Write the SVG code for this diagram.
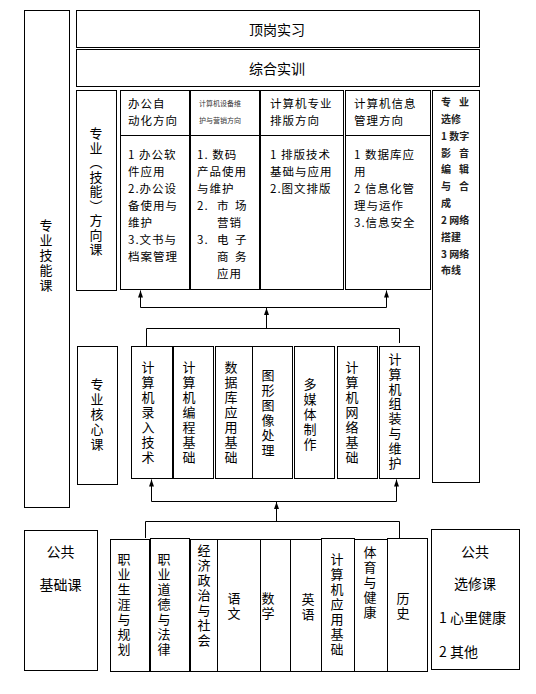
<svg xmlns="http://www.w3.org/2000/svg" width="536" height="694" viewBox="0 0 536 694">
<defs>
<style>
.b{fill:#fff;stroke:#000;stroke-width:1}
.t{font-family:"Noto Sans CJK SC","Liberation Sans",sans-serif;fill:#000}
.m{font-size:14px}
.s{font-size:11.5px;letter-spacing:1px}
.v{font-size:13px;text-anchor:middle}
.x{font-size:10px;font-weight:bold;fill:#222}
.y{font-size:7px;fill:#333}
.c{fill:none;stroke:#000;stroke-width:1}
</style>
<marker id="ah" markerWidth="8" markerHeight="8" refX="7" refY="4" orient="auto" markerUnits="userSpaceOnUse">
<path d="M0,1.5 L7,4 L0,6.5 Z" fill="#000"/>
</marker>
</defs>
<rect width="536" height="694" fill="#fff"/>

<g id="zyjnk">
<rect class="b" x="24.5" y="10.5" width="45" height="497"/>
<text class="t v"><tspan x="46" y="230">专</tspan><tspan x="46" dy="15">业</tspan><tspan x="46" dy="15">技</tspan><tspan x="46" dy="15">能</tspan><tspan x="46" dy="15">课</tspan></text>
</g>

<g id="dgsx">
<rect class="b" x="76.5" y="10.5" width="403" height="37"/>
<text class="t m" x="277" y="35" text-anchor="middle">顶岗实习</text>
</g>

<g id="zhsx">
<rect class="b" x="76.5" y="49.5" width="403" height="37"/>
<text class="t m" x="277" y="74" text-anchor="middle">综合实训</text>
</g>

<g id="fxk">
<rect class="b" x="76.5" y="90.5" width="40" height="200"/>
<text class="t v"><tspan x="96" y="138">专</tspan><tspan x="96" dy="14.5">业</tspan><tspan x="96" dy="14.5">︵</tspan><tspan x="96" dy="14.5">技</tspan><tspan x="96" dy="14.5">能</tspan><tspan x="96" dy="14.5">︶</tspan><tspan x="96" dy="14.5">方</tspan><tspan x="96" dy="14.5">向</tspan><tspan x="96" dy="14.5">课</tspan></text>
</g>

<g id="fx1">
<rect class="b" x="120.5" y="90.5" width="69" height="199"/>
<line class="c" x1="120.5" y1="135.5" x2="189.5" y2="135.5"/>
<text class="t s"><tspan x="128" y="108">办公自</tspan><tspan x="128" y="125">动化方向</tspan></text>
<text class="t s"><tspan x="128" y="159">1 办公软</tspan><tspan x="128" y="176">件应用</tspan><tspan x="128" y="193">2.办公设</tspan><tspan x="128" y="210">备使用与</tspan><tspan x="128" y="227">维护</tspan><tspan x="128" y="244">3.文书与</tspan><tspan x="128" y="261">档案管理</tspan></text>
</g>

<g id="fx2">
<rect class="b" x="190.5" y="90.5" width="69" height="199"/>
<line class="c" x1="190.5" y1="135.5" x2="259.5" y2="135.5"/>
<text class="t y"><tspan x="199" y="106">计算机设备维</tspan><tspan x="199" y="123">护与营销方向</tspan></text>
<text class="t s"><tspan x="197" y="159">1.  数码</tspan><tspan x="197" y="176">产品使用</tspan><tspan x="197" y="193">与维护</tspan><tspan x="197" y="210">2.</tspan><tspan x="217" y="210">市</tspan><tspan x="235" y="210">场</tspan><tspan x="217" y="227">营销</tspan><tspan x="197" y="244">3.</tspan><tspan x="217" y="244">电</tspan><tspan x="235" y="244">子</tspan><tspan x="217" y="261">商</tspan><tspan x="235" y="261">务</tspan><tspan x="217" y="278">应用</tspan></text>
</g>

<g id="fx3">
<rect class="b" x="260.5" y="90.5" width="83" height="199"/>
<line class="c" x1="260.5" y1="135.5" x2="343.5" y2="135.5"/>
<text class="t s"><tspan x="270" y="108">计算机专业</tspan><tspan x="270" y="125">排版方向</tspan></text>
<text class="t s"><tspan x="270" y="159">1 排版技术</tspan><tspan x="270" y="176">基础与应用</tspan><tspan x="270" y="193">2.图文排版</tspan></text>
</g>

<g id="fx4">
<rect class="b" x="345.5" y="90.5" width="85" height="199"/>
<line class="c" x1="345.5" y1="135.5" x2="430.5" y2="135.5"/>
<text class="t s"><tspan x="354" y="108">计算机信息</tspan><tspan x="354" y="125">管理方向</tspan></text>
<text class="t s"><tspan x="354" y="159">1 数据库应</tspan><tspan x="354" y="176">用</tspan><tspan x="354" y="193">2 信息化管</tspan><tspan x="354" y="210">理与运作</tspan><tspan x="354" y="227">3.信息安全</tspan></text>
</g>

<g id="zyxx">
<rect class="b" x="432.5" y="90.5" width="47" height="392"/>
<text class="t x"><tspan x="441" y="106">专</tspan><tspan x="459" y="106">业</tspan><tspan x="441" y="123">选修</tspan><tspan x="441" y="140">1 数字</tspan><tspan x="441" y="157">影</tspan><tspan x="459" y="157">音</tspan><tspan x="441" y="173">编</tspan><tspan x="459" y="173">辑</tspan><tspan x="441" y="190">与</tspan><tspan x="459" y="190">合</tspan><tspan x="441" y="207">成</tspan><tspan x="441" y="224">2 网络</tspan><tspan x="441" y="241">搭建</tspan><tspan x="441" y="258">3 网络</tspan><tspan x="441" y="274">布线</tspan></text>
</g>

<g id="hxk">
<rect class="b" x="77.5" y="346.5" width="40" height="138"/>
<text class="t v"><tspan x="97" y="389">专</tspan><tspan x="97" dy="15">业</tspan><tspan x="97" dy="15">核</tspan><tspan x="97" dy="15">心</tspan><tspan x="97" dy="15">课</tspan></text>
</g>

<g id="core1">
<rect class="b" x="131.5" y="346.5" width="41" height="132"/>
<text class="t v"><tspan x="148" y="372">计</tspan><tspan x="148" dy="15">算</tspan><tspan x="148" dy="15">机</tspan><tspan x="148" dy="15">录</tspan><tspan x="148" dy="15">入</tspan><tspan x="148" dy="15">技</tspan><tspan x="148" dy="15">术</tspan></text>
</g>
<g id="core2">
<rect class="b" x="173.5" y="346.5" width="40" height="132"/>
<text class="t v"><tspan x="189" y="372">计</tspan><tspan x="189" dy="15">算</tspan><tspan x="189" dy="15">机</tspan><tspan x="189" dy="15">编</tspan><tspan x="189" dy="15">程</tspan><tspan x="189" dy="15">基</tspan><tspan x="189" dy="15">础</tspan></text>
</g>
<g id="core3">
<rect class="b" x="215.5" y="346.5" width="37" height="132"/>
<text class="t v"><tspan x="231" y="372">数</tspan><tspan x="231" dy="15">据</tspan><tspan x="231" dy="15">库</tspan><tspan x="231" dy="15">应</tspan><tspan x="231" dy="15">用</tspan><tspan x="231" dy="15">基</tspan><tspan x="231" dy="15">础</tspan></text>
</g>
<g id="core4">
<rect class="b" x="252.5" y="346.5" width="40" height="132"/>
<text class="t v"><tspan x="268" y="380">图</tspan><tspan x="268" dy="15">形</tspan><tspan x="268" dy="15">图</tspan><tspan x="268" dy="15">像</tspan><tspan x="268" dy="15">处</tspan><tspan x="268" dy="15">理</tspan></text>
</g>
<g id="core5">
<rect class="b" x="294.5" y="346.5" width="40" height="132"/>
<text class="t v"><tspan x="310" y="389">多</tspan><tspan x="310" dy="15">媒</tspan><tspan x="310" dy="15">体</tspan><tspan x="310" dy="15">制</tspan><tspan x="310" dy="15">作</tspan></text>
</g>
<g id="core6">
<rect class="b" x="337.5" y="346.5" width="40" height="132"/>
<text class="t v"><tspan x="352" y="372">计</tspan><tspan x="352" dy="15">算</tspan><tspan x="352" dy="15">机</tspan><tspan x="352" dy="15">网</tspan><tspan x="352" dy="15">络</tspan><tspan x="352" dy="15">基</tspan><tspan x="352" dy="15">础</tspan></text>
</g>
<g id="core7">
<rect class="b" x="379.5" y="346.5" width="40" height="132"/>
<text class="t v"><tspan x="395" y="364">计</tspan><tspan x="395" dy="14.8">算</tspan><tspan x="395" dy="14.8">机</tspan><tspan x="395" dy="14.8">组</tspan><tspan x="395" dy="14.8">装</tspan><tspan x="395" dy="14.8">与</tspan><tspan x="395" dy="14.8">维</tspan><tspan x="395" dy="14.8">护</tspan></text>
</g>

<g id="ggjck">
<rect class="b" x="24.5" y="530.5" width="73" height="140"/>
<text class="t m" x="60.5" y="557" text-anchor="middle">公共</text>
<text class="t m" x="60.5" y="590" text-anchor="middle">基础课</text>
</g>

<g id="pub1">
<rect class="b" x="110.5" y="539.5" width="39" height="132"/>
<text class="t v"><tspan x="124" y="564">职</tspan><tspan x="124" dy="15">业</tspan><tspan x="124" dy="15">生</tspan><tspan x="124" dy="15">涯</tspan><tspan x="124" dy="15">与</tspan><tspan x="124" dy="15">规</tspan><tspan x="124" dy="15">划</tspan></text>
</g>
<g id="pub2">
<rect class="b" x="150.5" y="538.5" width="39" height="133"/>
<text class="t v"><tspan x="164" y="564">职</tspan><tspan x="164" dy="15">业</tspan><tspan x="164" dy="15">道</tspan><tspan x="164" dy="15">德</tspan><tspan x="164" dy="15">与</tspan><tspan x="164" dy="15">法</tspan><tspan x="164" dy="15">律</tspan></text>
</g>
<g id="pub3">
<rect class="b" x="190.5" y="539.5" width="27" height="132"/>
<text class="t v"><tspan x="204" y="555">经</tspan><tspan x="204" dy="15">济</tspan><tspan x="204" dy="15">政</tspan><tspan x="204" dy="15">治</tspan><tspan x="204" dy="15">与</tspan><tspan x="204" dy="15">社</tspan><tspan x="204" dy="15">会</tspan></text>
</g>
<g id="pub4">
<rect class="b" x="217.5" y="539.5" width="43" height="132"/>
<text class="t v"><tspan x="234" y="603">语</tspan><tspan x="234" dy="15">文</tspan></text>
</g>
<g id="pub5">
<rect class="b" x="260.5" y="539.5" width="30" height="132"/>
<text class="t v"><tspan x="268" y="603">数</tspan><tspan x="268" dy="15">学</tspan></text>
</g>
<g id="pub6">
<rect class="b" x="290.5" y="539.5" width="31" height="132"/>
<text class="t v"><tspan x="308" y="604">英</tspan><tspan x="308" dy="15">语</tspan></text>
</g>
<g id="pub7">
<rect class="b" x="321.5" y="538.5" width="33" height="133"/>
<text class="t v"><tspan x="337" y="564">计</tspan><tspan x="337" dy="15">算</tspan><tspan x="337" dy="15">机</tspan><tspan x="337" dy="15">应</tspan><tspan x="337" dy="15">用</tspan><tspan x="337" dy="15">基</tspan><tspan x="337" dy="15">础</tspan></text>
</g>
<g id="pub8">
<rect class="b" x="354.5" y="539.5" width="33" height="132"/>
<text class="t v"><tspan x="370" y="557">体</tspan><tspan x="370" dy="15">育</tspan><tspan x="370" dy="15">与</tspan><tspan x="370" dy="15">健</tspan><tspan x="370" dy="15">康</tspan></text>
</g>
<g id="pub9">
<rect class="b" x="387.5" y="538.5" width="40" height="133"/>
<text class="t v"><tspan x="403" y="603">历</tspan><tspan x="403" dy="15">史</tspan></text>
</g>

<g id="ggxxk">
<rect class="b" x="431.5" y="529.5" width="88" height="140"/>
<text class="t m" x="475" y="557" text-anchor="middle">公共</text>
<text class="t m" x="475" y="589" text-anchor="middle">选修课</text>
<text class="t m" x="439" y="623">1 心里健康</text>
<text class="t m" x="439" y="657">2 其他</text>
</g>

<g id="connectors">
<polyline class="c" points="140.5,307.5 386.5,307.5"/>
<line class="c" x1="140.5" y1="307.5" x2="140.5" y2="290.5" marker-end="url(#ah)"/>
<line class="c" x1="386.5" y1="307.5" x2="386.5" y2="290.5" marker-end="url(#ah)"/>
<line class="c" x1="266.5" y1="328.5" x2="266.5" y2="308" marker-end="url(#ah)"/>
<polyline class="c" points="146.5,346 146.5,328.5 399.5,328.5 399.5,343"/>
<polyline class="c" points="151.5,501.5 396.5,501.5"/>
<line class="c" x1="151.5" y1="501.5" x2="151.5" y2="479.5" marker-end="url(#ah)"/>
<line class="c" x1="396.5" y1="501.5" x2="396.5" y2="479.5" marker-end="url(#ah)"/>
<line class="c" x1="276.5" y1="521.5" x2="276.5" y2="502" marker-end="url(#ah)"/>
<polyline class="c" points="145.5,538 145.5,521.5 399.5,521.5 399.5,538"/>
</g>
</svg>
